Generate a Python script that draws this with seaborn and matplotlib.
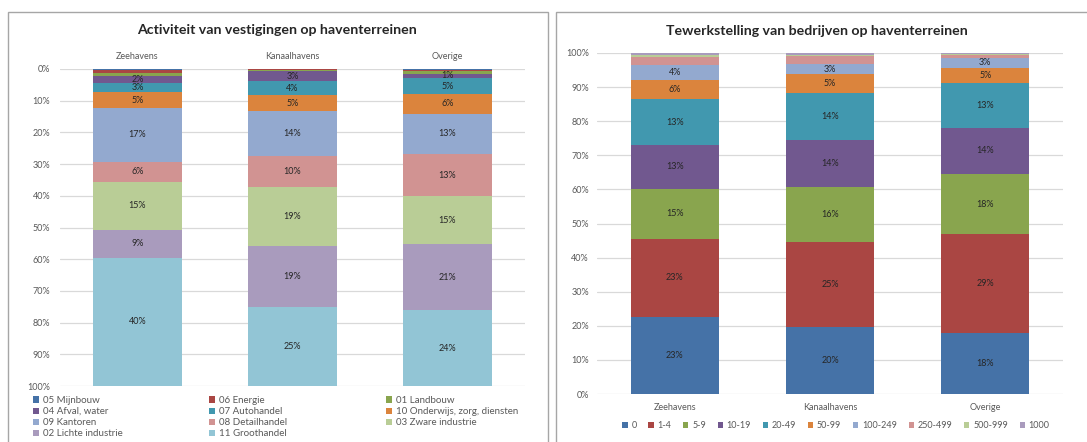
import numpy as np
import pandas as pd
import matplotlib
matplotlib.use("Agg")
import matplotlib.pyplot as plt
from matplotlib.patches import Rectangle, Patch
import seaborn as sns

# ---------------------------------------------------------------- data
havens = ["Zeehavens", "Kanaalhavens", "Overige"]

# Activiteit van vestigingen (% of establishments), stacked from 0% (top) downwards
activiteiten = ["05 Mijnbouw", "06 Energie", "01 Landbouw", "04 Afval, water",
                "07 Autohandel", "10 Onderwijs, zorg, diensten", "09 Kantoren",
                "08 Detailhandel", "03 Zware industrie", "02 Lichte industrie",
                "11 Groothandel"]
zee_act = [0.2, 1.2, 0.8, 2.3, 2.8, 5.0, 17.0, 6.3, 15.2, 8.8, 40.4]
kan_act = [0.1, 0.3, 0.2, 3.3, 4.2, 5.3, 14.0, 9.8, 18.6, 19.2, 25.0]
ove_act = [0.2, 0.5, 0.8, 1.4, 5.0, 6.2, 12.8, 13.2, 15.1, 20.9, 23.9]

# Tewerkstelling (% of companies per size class), stacked from 0% upwards
klassen = ["0", "1-4", "5-9", "10-19", "20-49", "50-99", "100-249",
           "250-499", "500-999", "1000"]
zee_werk = [22.6, 23.0, 14.6, 12.8, 13.4, 5.6, 4.4, 2.3, 0.6, 0.7]
kan_werk = [19.6, 24.9, 16.1, 14.0, 13.8, 5.3, 3.2, 2.1, 0.5, 0.5]
ove_werk = [17.9, 29.0, 17.6, 13.6, 13.0, 4.6, 2.8, 1.0, 0.3, 0.2]

# Office-style series colours
palette = ["#4572A7", "#AA4643", "#89A54E", "#71588F", "#4198AF", "#DB843D",
           "#93A9CF", "#D19392", "#B9CD96", "#A99BBD", "#92C5D5"]


def long_table(series, rows):
    recs = []
    for haven, vals in zip(havens, rows):
        cum = np.cumsum(vals)
        for s, v, c in zip(series, vals, cum):
            recs.append({"haven": haven, "serie": s, "waarde": v,
                         "top": c, "mid": c - v / 2})
    return pd.DataFrame(recs)


act = long_table(activiteiten, [zee_act, kan_act, ove_act])
werk = long_table(klassen, [zee_werk, kan_werk, ove_werk])

# ---------------------------------------------------------------- style
sns.set_theme(style="white")
plt.rcParams["font.family"] = ["Lato", "DejaVu Sans"]
tick_col = "#595959"
grid_col = "#d9d9d9"
fs = 6.5

W, H = 1087, 442
fig = plt.figure(figsize=(W / 100, H / 100), dpi=100)

# chart frames
fig.add_artist(Rectangle((8 / W, -0.2), (548 - 8) / W, 1.2 - 12 / H,
                         transform=fig.transFigure, fill=False,
                         ec="#a6a6a6", lw=1.0))
fig.add_artist(Rectangle((556 / W, -0.2), 0.6, 1.2 - 12 / H,
                         transform=fig.transFigure, fill=False,
                         ec="#a6a6a6", lw=1.0))


def stacked(ax, df, series, width, label_first, label_last):
    # draw cumulative bars from the longest to the shortest so each
    # segment shows its own colour
    for i in range(len(series) - 1, -1, -1):
        sub = df[df["serie"] == series[i]]
        sns.barplot(data=sub, x="haven", y="top", order=havens,
                    color=palette[i], saturation=1, width=width,
                    errorbar=None, ax=ax, linewidth=0)
    for i in range(label_first, label_last):
        sub = df[df["serie"] == series[i]]
        for j, row in enumerate(sub.itertuples()):
            ax.text(j, row.mid, f"{row.waarde:.0f}%", ha="center",
                    va="center", fontsize=fs, color="#262626")
    ax.set_ylim(0, 100)
    ax.set_yticks(range(0, 101, 10))
    ax.set_yticklabels([f"{v}%" for v in range(0, 101, 10)])
    ax.yaxis.grid(True, color=grid_col, lw=0.9)
    ax.set_axisbelow(True)
    for sp in ax.spines.values():
        sp.set_visible(False)
    ax.set_xlabel("")
    ax.set_ylabel("")
    ax.tick_params(length=0, labelsize=fs, colors=tick_col)


# ---------------------------------------------------------------- left chart
ax1 = fig.add_axes([60 / W, 1 - 386 / H, 465 / W, 317 / H])
stacked(ax1, act, activiteiten, 0.574, 3, len(activiteiten))
ax1.set_xlim(-0.5, 2.5)
ax1.invert_yaxis()
ax1.tick_params(axis="x", top=True, labeltop=True, bottom=False,
                labelbottom=False, pad=5.5)
ax1.tick_params(axis="y", pad=7)
fig.text(277 / W, 1 - 30 / H, "Activiteit van vestigingen op haventerreinen",
         ha="center", va="center", fontsize=10.2, weight="bold",
         color="#262626")

# legend in three fixed columns, filled row by row
handles = [Patch(facecolor=c, edgecolor="none") for c in palette]
cols = [[0, 3, 6, 9], [1, 4, 7, 10], [2, 5, 8]]
for xpix, idx in zip([33, 209, 386], cols):
    fig.legend([handles[k] for k in idx], [activiteiten[k] for k in idx],
               loc="upper left", bbox_to_anchor=(xpix / W, 1 - 396 / H),
               frameon=False, borderpad=0, borderaxespad=0,
               handlelength=0.6, handleheight=0.6, handletextpad=0.4,
               labelspacing=0.22, fontsize=7, labelcolor=tick_col)

# ---------------------------------------------------------------- right chart
ax2 = fig.add_axes([597 / W, 1 - 394 / H, 466 / W, 341 / H])
stacked(ax2, werk, klassen, 0.566, 0, 7)
ax2.set_xlim(-0.5, 2.5)
ax2.tick_params(axis="x", pad=6.5)
ax2.tick_params(axis="y", pad=5.8)
fig.text(817 / W, 1 - 31 / H, "Tewerkstelling van bedrijven op haventerreinen",
         ha="center", va="center", fontsize=10.2, weight="bold",
         color="#262626")
fig.legend(handles[:len(klassen)], klassen, loc="center", ncol=len(klassen),
           bbox_to_anchor=(836 / W, 1 - 426 / H), frameon=False,
           borderpad=0, borderaxespad=0, handlelength=0.6, handleheight=0.6,
           handletextpad=0.4, columnspacing=1.3, fontsize=fs,
           labelcolor=tick_col)

fig.savefig("out.png", dpi=100)
